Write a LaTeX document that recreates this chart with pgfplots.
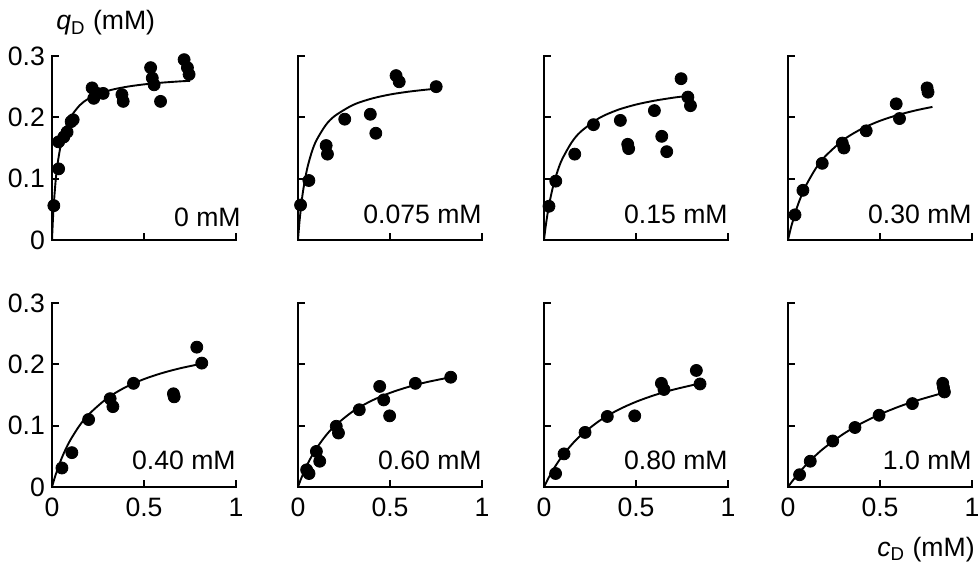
\documentclass[border=0pt]{standalone}
\usepackage{fontspec}
\setmainfont{Liberation Sans}
\usepackage{pgfplots}
\pgfplotsset{compat=1.18}

\pgfplotsset{
  panel/.style={
    scale only axis,
    width=92pt, height=92pt,
    xmin=0, xmax=1, ymin=0, ymax=0.3,
    axis lines*=left,
    axis line style={line width=1.25pt, line cap=rect},
    tick align=inside,
    major tick length=3.6pt,
    every tick/.style={line width=1.1pt, black},
    xtick={0,0.5,1}, ytick={0,0.1,0.2,0.3},
    /pgf/number format/assume math mode=true,
    tick label style={font=\fontsize{13.3}{15}\selectfont},
    xticklabel style={yshift=-2pt},
    clip=false,
    anchor=origin,
  },
  notx/.style={xticklabels={}},
  noty/.style={yticklabels={}},
  dots/.style={only marks, mark=*, mark size=3pt, black},
  fit/.style={no marks, black, line width=0.95pt, smooth},
}
\newcommand{\conc}[2][8pt]{\node[anchor=base east, inner sep=0pt, yshift=#1,
  font=\fontsize{13.3}{15}\selectfont] at (axis cs:1,0) {#2};}

\begin{document}
\begin{tikzpicture}
\useasboundingbox (0,0) rectangle (490pt,281pt);

% ---------- top row ----------
\begin{axis}[panel, notx, at={(26pt,161pt)}]
  \addplot[fit] coordinates {(0,0) (0.005,0.0332) (0.01,0.0591) (0.02,0.0971) (0.03,0.1236)
    (0.05,0.1581) (0.075,0.1838) (0.1,0.2) (0.15,0.2194) (0.2,0.2305) (0.3,0.2429)
    (0.4,0.2495) (0.5,0.2537) (0.6,0.2566) (0.7,0.2587) (0.75,0.2595)};
  \addplot[dots] coordinates {(0.01,0.056) (0.036,0.116) (0.036,0.16) (0.064,0.168)
    (0.082,0.176) (0.104,0.193) (0.115,0.196) (0.218,0.248) (0.227,0.231) (0.245,0.239)
    (0.278,0.239) (0.38,0.237) (0.387,0.226) (0.536,0.281) (0.545,0.264) (0.555,0.253)
    (0.59,0.226) (0.718,0.294) (0.736,0.281) (0.745,0.27)};
  \node[anchor=base east, inner sep=0pt, yshift=6.5pt, xshift=2.5pt,
    font=\fontsize{13.3}{15}\selectfont] at (axis cs:1,0) {0 mM};
  \node[anchor=base west, inner sep=0pt, xshift=2pt, yshift=13pt,
    font=\fontsize{13.3}{15}\selectfont] at (axis cs:0,0.3)
    {\textit{q}\textsubscript{D} (mM)};
\end{axis}

\begin{axis}[panel, notx, noty, at={(149pt,161pt)}]
  \addplot[fit] coordinates {(0,0) (0.005,0.0191) (0.01,0.0357) (0.02,0.0631) (0.03,0.0846)
    (0.05,0.1165) (0.075,0.1436) (0.1,0.1624) (0.15,0.187) (0.2,0.2023) (0.3,0.2203)
    (0.4,0.2305) (0.5,0.2372) (0.6,0.2418) (0.7,0.2452) (0.75,0.2466)};
  \addplot[dots] coordinates {(0.014,0.057) (0.059,0.097) (0.153,0.154) (0.16,0.14)
    (0.254,0.197) (0.393,0.205) (0.423,0.174) (0.533,0.268) (0.55,0.258) (0.751,0.25)};
  \conc{0.075 mM}
\end{axis}

\begin{axis}[panel, notx, noty, at={(272pt,161pt)}]
  \addplot[fit] coordinates {(0,0) (0.005,0.0126) (0.01,0.0241) (0.02,0.0442) (0.03,0.0612)
    (0.05,0.0883) (0.075,0.1136) (0.1,0.1325) (0.15,0.159) (0.2,0.1767) (0.3,0.1988)
    (0.4,0.212) (0.5,0.2208) (0.6,0.2271) (0.7,0.2319) (0.755,0.234)};
  \addplot[dots] coordinates {(0.027,0.055) (0.064,0.096) (0.167,0.14) (0.269,0.188)
    (0.415,0.195) (0.455,0.156) (0.46,0.149) (0.6,0.211) (0.64,0.169) (0.667,0.144)
    (0.745,0.263) (0.782,0.233) (0.796,0.219)};
  \conc{0.15 mM}
\end{axis}

\begin{axis}[panel, notx, noty, at={(394pt,161pt)}]
  \addplot[fit] coordinates {(0,0) (0.01,0.0128) (0.02,0.0245) (0.05,0.0541) (0.075,0.0738)
    (0.1,0.0902) (0.15,0.1162) (0.2,0.1357) (0.3,0.163) (0.4,0.1812) (0.5,0.1943)
    (0.6,0.2041) (0.7,0.2117) (0.785,0.217)};
  \addplot[dots] coordinates {(0.038,0.041) (0.081,0.081) (0.186,0.125) (0.295,0.158)
    (0.304,0.15) (0.425,0.178) (0.588,0.222) (0.606,0.198) (0.756,0.248) (0.761,0.241)};
  \conc{0.30 mM}
\end{axis}

% ---------- bottom row ----------
\begin{axis}[panel, at={(26pt,37.5pt)}]
  \addplot[fit] coordinates {(0,0) (0.01,0.0104) (0.02,0.0201) (0.05,0.045) (0.075,0.0621)
    (0.1,0.0767) (0.15,0.1003) (0.2,0.1185) (0.3,0.1447) (0.4,0.1628) (0.5,0.1759)
    (0.6,0.1859) (0.7,0.1938) (0.81,0.2008)};
  \addplot[dots] coordinates {(0.054,0.031) (0.108,0.056) (0.199,0.11) (0.316,0.144)
    (0.331,0.131) (0.443,0.169) (0.66,0.152) (0.664,0.147) (0.787,0.228) (0.814,0.202)};
  \conc[8.5pt]{0.40 mM}
\end{axis}

\begin{axis}[panel, noty, at={(149pt,37.5pt)}]
  \addplot[fit] coordinates {(0,0) (0.01,0.0082) (0.02,0.0159) (0.05,0.0362) (0.075,0.0505)
    (0.1,0.0629) (0.15,0.0834) (0.2,0.0996) (0.3,0.1237) (0.4,0.1407) (0.5,0.1534)
    (0.6,0.1632) (0.7,0.171) (0.83,0.179)};
  \addplot[dots] coordinates {(0.047,0.028) (0.06,0.022) (0.1,0.058) (0.118,0.042)
    (0.208,0.099) (0.22,0.088) (0.333,0.126) (0.444,0.164) (0.466,0.142) (0.498,0.116)
    (0.638,0.169) (0.83,0.179)};
  \conc[8.5pt]{0.60 mM}
\end{axis}

\begin{axis}[panel, noty, at={(272pt,37.5pt)}]
  \addplot[fit] coordinates {(0,0) (0.01,0.0062) (0.02,0.0122) (0.05,0.0283) (0.075,0.0401)
    (0.1,0.0507) (0.15,0.069) (0.2,0.0841) (0.3,0.1077) (0.4,0.1253) (0.5,0.1389)
    (0.6,0.1497) (0.7,0.1585) (0.85,0.1691)};
  \addplot[dots] coordinates {(0.063,0.022) (0.109,0.054) (0.223,0.089) (0.344,0.115)
    (0.493,0.116) (0.638,0.169) (0.652,0.159) (0.828,0.19) (0.848,0.168)};
  \conc[8.5pt]{0.80 mM}
\end{axis}

\begin{axis}[panel, noty, at={(394pt,37.5pt)}]
  \addplot[fit] coordinates {(0,0) (0.01,0.0042) (0.02,0.0082) (0.05,0.0196) (0.075,0.0284)
    (0.1,0.0366) (0.15,0.0514) (0.2,0.0644) (0.3,0.0863) (0.4,0.104) (0.5,0.1185)
    (0.6,0.1307) (0.7,0.141) (0.85,0.154)};
  \addplot[dots] coordinates {(0.063,0.02) (0.121,0.042) (0.243,0.075) (0.364,0.097)
    (0.495,0.117) (0.676,0.136) (0.841,0.169) (0.845,0.162) (0.85,0.155)};
  \conc[8.5pt]{1.0 mM}
  \node[anchor=base east, inner sep=0pt, xshift=1.5pt, yshift=-34.5pt,
    font=\fontsize{13.3}{15}\selectfont] at (axis cs:1,0)
    {\textit{c}\textsubscript{D} (mM)};
\end{axis}
\end{tikzpicture}
\end{document}
